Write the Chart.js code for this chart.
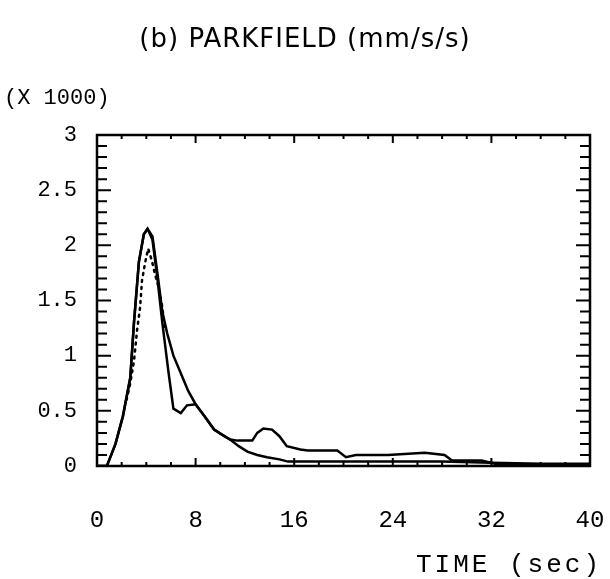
<!DOCTYPE html>
<html>
<head>
<meta charset="utf-8">
<script src="https://cdn.jsdelivr.net/npm/chart.js@4/dist/chart.umd.min.js"></script>
<style>
  html, body { margin: 0; padding: 0; background: #fff; }
  #wrap { width: 610px; height: 579px; position: relative; }
</style>
</head>
<body>
<div id="wrap"><canvas id="chart"></canvas></div>
<script>
// Zeit (s) / Beschleunigung (x1000 mm/s/s)
const timeA  = [0, 0.8, 1.5, 2.1, 2.7, 3.0, 3.4, 3.8, 4.1, 4.5, 4.9, 5.3, 5.7, 6.2, 6.8, 7.4, 8.0, 8.8, 9.5, 10.2, 10.8, 11.5, 12.2, 13.0, 13.8, 14.8, 15.5, 17, 20, 24, 28, 32, 36, 40];
const accelA = [0, 0, 0.2, 0.45, 0.8, 1.3, 1.85, 2.1, 2.15, 2.08, 1.75, 1.4, 1.2, 1.0, 0.84, 0.68, 0.56, 0.44, 0.33, 0.28, 0.24, 0.18, 0.13, 0.1, 0.08, 0.06, 0.04, 0.04, 0.04, 0.04, 0.04, 0.03, 0.02, 0.02];

const timeB  = [0, 0.8, 1.5, 2.1, 2.7, 3.0, 3.4, 3.8, 4.1, 4.5, 4.9, 5.3, 5.8, 6.2, 6.8, 7.3, 8.0, 8.8, 9.5, 10.2, 10.8, 11.4, 12.6, 13.0, 13.5, 14.2, 14.8, 15.4, 16.5, 17.1, 19.5, 20.2, 21.0, 23.6, 26.6, 28.2, 28.8, 31.2, 32.3, 36, 40];
const accelB = [0, 0, 0.2, 0.45, 0.8, 1.3, 1.85, 2.1, 2.15, 2.05, 1.7, 1.3, 0.85, 0.52, 0.48, 0.55, 0.56, 0.44, 0.33, 0.28, 0.24, 0.23, 0.23, 0.3, 0.34, 0.33, 0.27, 0.18, 0.15, 0.14, 0.14, 0.08, 0.1, 0.1, 0.12, 0.1, 0.05, 0.05, 0.02, 0.01, 0.01];

const timeC  = [2.4, 2.7, 3.0, 3.25, 3.5, 3.65, 3.9, 4.15, 4.45, 4.7, 5.0, 5.3, 5.5];
const accelC = [0.6, 0.75, 0.95, 1.23, 1.44, 1.68, 1.84, 1.97, 1.86, 1.74, 1.62, 1.44, 1.25];

const xTicks = [0, 8, 16, 24, 32, 40];
const yTicks = [0, 0.5, 1, 1.5, 2, 2.5, 3];

const INK = "#000";
const MONO = "'Liberation Mono', 'DejaVu Sans Mono', monospace";

function pts(t, v) { return t.map((x, i) => ({ x: x, y: v[i] })); }

// Rahmen, nach innen zeigende Striche und Beschriftungen
const frame = {
  id: "frame",
  afterDatasetsDraw(chart) {
    const { ctx, chartArea: a, scales: { x, y } } = chart;
    ctx.save();
    ctx.strokeStyle = INK;
    ctx.lineWidth = 2.5;
    ctx.strokeRect(a.left, a.top, a.right - a.left, a.bottom - a.top);

    ctx.lineWidth = 2;
    ctx.beginPath();
    for (let t = 0; t <= 40; t += 2) {
      const px = x.getPixelForValue(t);
      const len = t % 8 === 0 ? 8 : 4;
      ctx.moveTo(px, a.bottom); ctx.lineTo(px, a.bottom - len);
      ctx.moveTo(px, a.top); ctx.lineTo(px, a.top + len);
    }
    for (let i = 0; i <= 30; i++) {
      const py = y.getPixelForValue(i / 10);
      const len = i % 5 === 0 ? 14 : 10;
      ctx.moveTo(a.left, py); ctx.lineTo(a.left + len, py);
      ctx.moveTo(a.right, py); ctx.lineTo(a.right - len, py);
    }
    ctx.stroke();

    ctx.fillStyle = INK;
    ctx.textBaseline = "middle";
    ctx.textAlign = "center";
    ctx.font = "26px 'DejaVu Sans', sans-serif";
    ctx.letterSpacing = "1px";
    ctx.fillText("(b) PARKFIELD (mm/s/s)", 305, 40);

    ctx.textAlign = "left";
    ctx.letterSpacing = "0px";
    ctx.font = "22px " + MONO;
    ctx.fillText("(X 1000)", 4, 98);

    ctx.textAlign = "right";
    ctx.font = "26px " + MONO;
    ctx.letterSpacing = "3px";
    ctx.fillText("TIME (sec)", 602, 565);
    ctx.restore();
  }
};

new Chart(document.getElementById("chart"), {
  type: "line",
  data: {
    datasets: [
      { data: pts(timeA, accelA), borderColor: INK, borderWidth: 2.5, pointRadius: 0 },
      { data: pts(timeB, accelB), borderColor: INK, borderWidth: 2.5, pointRadius: 0 },
      { data: pts(timeC, accelC), borderColor: INK, borderWidth: 2.5, pointRadius: 0,
        borderDash: [2, 5], borderCapStyle: "round" },
    ],
  },
  options: {
    responsive: true,
    maintainAspectRatio: false,
    animation: false,
    layout: { padding: { top: 135, right: 20, left: 0, bottom: 0 } },
    plugins: { legend: { display: false }, tooltip: { enabled: false } },
    scales: {
      x: {
        type: "linear", min: 0, max: 40,
        afterBuildTicks: (s) => { s.ticks = xTicks.map((v) => ({ value: v })); },
        afterFit: (s) => { s.height = 579 - 466; s.paddingLeft = 0; s.paddingRight = 0; },
        grid: { display: false, drawTicks: false },
        border: { display: false },
        ticks: { color: INK, font: { family: MONO, size: 24 }, padding: 40, maxRotation: 0,
                 callback: (v) => String(v) },
      },
      y: {
        min: 0, max: 3,
        afterBuildTicks: (s) => { s.ticks = yTicks.map((v) => ({ value: v })); },
        afterFit: (s) => { s.width = 97; s.paddingTop = 0; s.paddingBottom = 0; },
        grid: { display: false, drawTicks: false },
        border: { display: false },
        ticks: { color: INK, font: { family: MONO, size: 22 }, padding: 20,
                 callback: (v) => String(v) },
      },
    },
  },
  plugins: [frame],
});
</script>
</body>
</html>
